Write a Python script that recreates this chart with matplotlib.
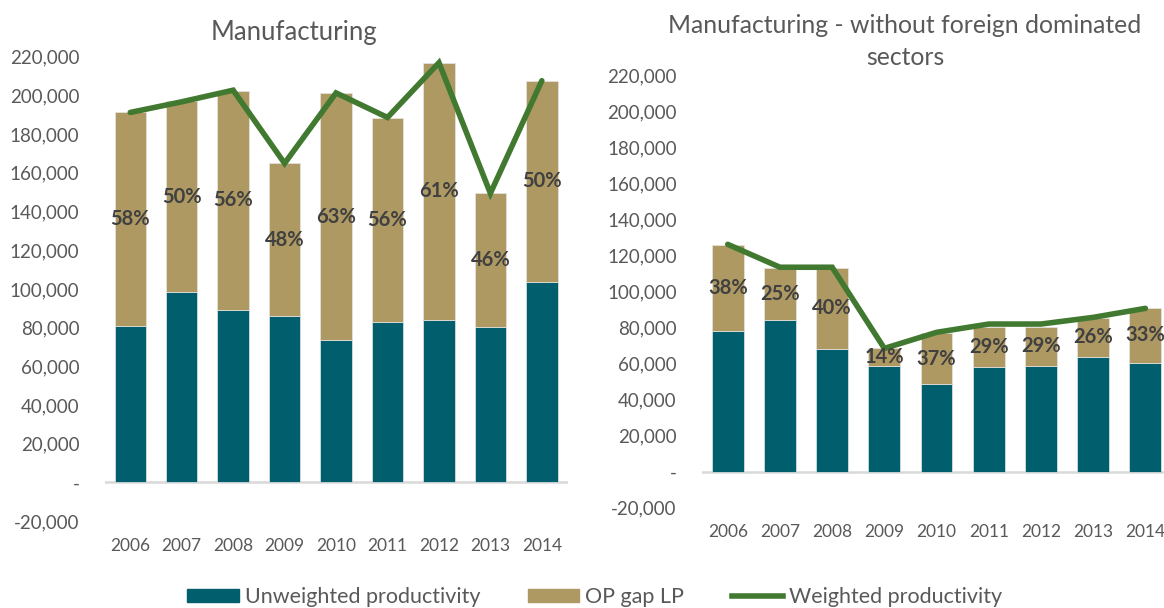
import matplotlib.pyplot as plt
from matplotlib.patches import Patch
from matplotlib.lines import Line2D
import numpy as np

plt.rcParams['font.family'] = ['Lato', 'DejaVu Sans']

YEARS = ["2006", "2007", "2008", "2009", "2010", "2011", "2012", "2013", "2014"]

# Manufacturing
unweighted_all = [80900, 98200, 89200, 85900, 73700, 82800, 83900, 80300, 103500]
gap_all = [110300, 98800, 113000, 79000, 127300, 105500, 133000, 69400, 104100]
weighted_all = [191200, 196700, 202700, 164900, 201300, 188600, 216900, 149400, 207600]
pct_all = ["58%", "50%", "56%", "48%", "63%", "56%", "61%", "46%", "50%"]

# Manufacturing - without foreign dominated sectors
unweighted_dom = [78200, 84300, 68100, 58800, 48600, 58200, 58400, 63800, 60500]
gap_dom = [47400, 28800, 45000, 9600, 28200, 22300, 22100, 21500, 30100]
weighted_dom = [126100, 113400, 113400, 68400, 77300, 81900, 81900, 85600, 90600]
pct_dom = ["38%", "25%", "40%", "14%", "37%", "29%", "29%", "26%", "33%"]

TEAL = "#015E6C"
TAN = "#AE9963"
GREEN = "#40792F"
GREY = "#595959"


def fmt(v):
    if v == 0:
        return "-"
    return "{:,}".format(int(v))


def draw(ax, unw, gap, wtd, pct):
    x = np.arange(len(YEARS))
    ax.bar(x, unw, width=0.61, color=TEAL, edgecolor="#E6E6E6", linewidth=0.5, zorder=2)
    ax.bar(x, gap, width=0.61, bottom=unw, color=TAN, edgecolor="#E6E6E6", linewidth=0.5, zorder=2)
    ax.plot(x, wtd, color=GREEN, linewidth=4, zorder=3, solid_capstyle="round",
            solid_joinstyle="miter", clip_on=False)
    for i in range(len(YEARS)):
        mid = unw[i] + gap[i] / 2
        ax.text(x[i], mid, pct[i], ha="center", va="center", fontsize=14.5,
                fontweight="bold", color="#404040", zorder=4, clip_on=False)
    ax.axhline(0, color="#D9D9D9", linewidth=1.8, zorder=1)
    ax.set_xlim(-0.5, len(YEARS) - 0.5)
    ax.set_ylim(-25000, 220000)
    ticks = list(range(-20000, 220001, 20000))
    ax.set_yticks(ticks)
    ax.set_yticklabels([fmt(t) for t in ticks], fontsize=13.5, color=GREY)
    ax.set_xticks(x)
    ax.set_xticklabels(YEARS, fontsize=12.5, color=GREY)
    ax.tick_params(length=0)
    ax.tick_params(axis="y", pad=18)
    ax.tick_params(axis="x", pad=5)
    for s in ax.spines.values():
        s.set_visible(False)


fig = plt.figure(figsize=(11.64, 6.08), dpi=100)
ax1 = fig.add_axes([0.0898, 0.1271, 0.3978, 0.7796])
ax2 = fig.add_axes([0.6028, 0.1500, 0.4036, 0.7266])

draw(ax1, unweighted_all, gap_all, weighted_all, pct_all)
draw(ax2, unweighted_dom, gap_dom, weighted_dom, pct_dom)

fig.text(0.253, 0.947, "Manufacturing", ha="center", va="center",
         fontsize=18.5, color=GREY)
fig.text(0.7775, 0.9317, "Manufacturing - without foreign dominated\nsectors",
         ha="center", va="center", fontsize=17.8, color=GREY, linespacing=1.45)

handles = [Patch(color=TEAL, label="Unweighted productivity"),
           Patch(color=TAN, label="OP gap LP"),
           Line2D([0], [0], color=GREEN, linewidth=4, label="Weighted productivity")]
leg = fig.legend(handles=handles, loc="center", ncol=3, frameon=False,
                 bbox_to_anchor=(0.511, 0.018), fontsize=15.5, handlelength=2.4,
                 handleheight=0.5, handletextpad=0.28, columnspacing=2.2)
for t in leg.get_texts():
    t.set_color(GREY)

fig.savefig("out.png", dpi=100)
